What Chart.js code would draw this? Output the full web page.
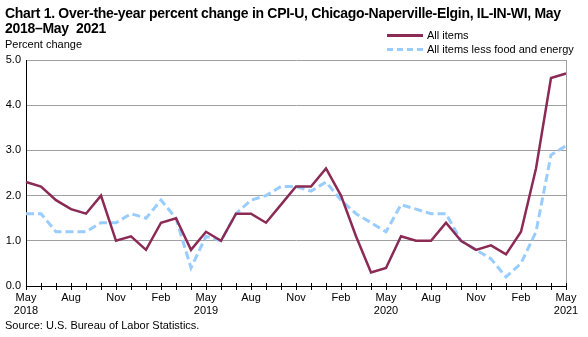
<!DOCTYPE html>
<html>
<head>
<meta charset="utf-8">
<script src="https://cdn.jsdelivr.net/npm/chart.js@4"></script>
<style>
	html, body { margin: 0; padding: 0; background: #fff; }
	#wrap { position: relative; width: 588px; height: 337px; font-family: Arial, "Liberation Sans", sans-serif; color: #000; }
	#chart { position: absolute; left: 0; top: 0; }
	.title { position: absolute; left: 5px; top: 6px; font-size: 14px; font-weight: bold; line-height: 15px; letter-spacing: -0.3px; white-space: nowrap; }
	.ylab { position: absolute; left: 5px; top: 38px; font-size: 11px; }
	.source { position: absolute; left: 5px; top: 319px; font-size: 11px; }
	.legend { position: absolute; left: 387px; top: 28px; font-size: 11px; line-height: 14px; }
	.legend div { white-space: nowrap; }
	.sw { display: inline-block; width: 36px; height: 0; vertical-align: middle; margin-right: 4px; position: relative; top: -1px; }
	.sw.all { border-top: 3px solid #8b2a55; }
	.sw.core { border-top: 3px dashed #99ccff; }
</style>
</head>
<body>
<div id="wrap">
	<canvas id="chart" width="588" height="337"></canvas>
	<div class="title">Chart 1. Over-the-year percent change in CPI-U, Chicago-Naperville-Elgin, IL-IN-WI, May<br>2018&ndash;May&nbsp; 2021</div>
	<div class="ylab">Percent change</div>
	<div class="legend">
		<div><span class="sw all"></span>All items</div>
		<div><span class="sw core"></span>All items less food and energy</div>
	</div>
	<div class="source">Source: U.S. Bureau of Labor Statistics.</div>
</div>
<script>
// monthly labels, May 2018 - May 2021
const months = [
	'May 2018', 'Jun 2018', 'Jul 2018', 'Aug 2018', 'Sep 2018', 'Oct 2018', 'Nov 2018', 'Dec 2018',
	'Jan 2019', 'Feb 2019', 'Mar 2019', 'Apr 2019', 'May 2019', 'Jun 2019', 'Jul 2019', 'Aug 2019',
	'Sep 2019', 'Oct 2019', 'Nov 2019', 'Dec 2019', 'Jan 2020', 'Feb 2020', 'Mar 2020', 'Apr 2020',
	'May 2020', 'Jun 2020', 'Jul 2020', 'Aug 2020', 'Sep 2020', 'Oct 2020', 'Nov 2020', 'Dec 2020',
	'Jan 2021', 'Feb 2021', 'Mar 2021', 'Apr 2021', 'May 2021'
];

const allItems = [
	2.3, 2.2, 1.9, 1.7, 1.6, 2.0, 1.0, 1.1, 0.8, 1.4, 1.5, 0.8,
	1.2, 1.0, 1.6, 1.6, 1.4, 1.8, 2.2, 2.2, 2.6, 2.0, 1.1, 0.3,
	0.4, 1.1, 1.0, 1.0, 1.4, 1.0, 0.8, 0.9, 0.7, 1.2, 2.6, 4.6, 4.7
];

const coreItems = [
	1.6, 1.6, 1.2, 1.2, 1.2, 1.4, 1.4, 1.6, 1.5, 1.9, 1.5, 0.4,
	1.1, 1.0, 1.6, 1.9, 2.0, 2.2, 2.2, 2.1, 2.3, 1.9, 1.6, 1.4,
	1.2, 1.8, 1.7, 1.6, 1.6, 1.0, 0.8, 0.6, 0.2, 0.5, 1.2, 2.9, 3.1
];

const yTicks = [0, 1, 2, 3, 4, 5];

// month ticks that cross the x axis, plus the grey right-hand frame line
const frame = {
	id: 'frame',
	afterDraw(chart) {
		const ctx = chart.ctx;
		const a = chart.chartArea;
		const x = chart.scales.x;
		ctx.save();
		ctx.strokeStyle = '#a0a0a0';
		ctx.lineWidth = 1;
		ctx.beginPath();
		ctx.moveTo(Math.round(a.right) + 0.5, a.top);
		ctx.lineTo(Math.round(a.right) + 0.5, a.bottom);
		ctx.stroke();
		ctx.strokeStyle = '#000';
		ctx.beginPath();
		for (let i = 0; i < months.length; i++) {
			const px = Math.round(x.getPixelForValue(i)) + 0.5;
			ctx.moveTo(px, a.bottom - 3);
			ctx.lineTo(px, a.bottom + 4);
		}
		ctx.moveTo(a.left, Math.round(a.bottom) + 0.5);
		ctx.lineTo(a.right, Math.round(a.bottom) + 0.5);
		ctx.stroke();
		ctx.restore();
	}
};

new Chart(document.getElementById('chart'), {
	type: 'line',
	data: {
		labels: months,
		datasets: [{
			label: 'All items',
			data: allItems,
			borderColor: '#8b2a55',
			borderWidth: 2.5,
			pointRadius: 0,
			tension: 0
		}, {
			label: 'All items less food and energy',
			data: coreItems,
			borderColor: '#99ccff',
			borderWidth: 3,
			borderDash: [8, 4],
			pointRadius: 0,
			tension: 0
		}]
	},
	options: {
		responsive: false,
		animation: false,
		layout: { padding: { top: 60, right: 22, bottom: 21, left: 0 } },
		plugins: { legend: { display: false }, tooltip: { enabled: false } },
		scales: {
			x: {
				offset: false,
				grid: { display: false, drawTicks: false },
				border: { display: false },
				afterFit: s => { s.height = 30; },
				ticks: {
					autoSkip: false,
					maxRotation: 0,
					padding: 5,
					color: '#000',
					font: { family: 'Arial, "Liberation Sans", sans-serif', size: 11 },
					callback: (v, i) => {
						const [m, yr] = months[i].split(' ');
						if (m === 'May') return [m, yr];
						if (m === 'Aug' || m === 'Nov' || m === 'Feb') return m;
						return '';
					}
				}
			},
			y: {
				min: yTicks[0],
				max: yTicks[yTicks.length - 1],
				afterFit: s => { s.width = 26; },
				afterBuildTicks: s => { s.ticks = yTicks.map(v => ({ value: v })); },
				grid: { color: '#a0a0a0', lineWidth: 1, drawTicks: false },
				border: { color: '#000', width: 1 },
				ticks: {
					padding: 5,
					color: '#000',
					font: { family: 'Arial, "Liberation Sans", sans-serif', size: 11 },
					callback: v => v.toFixed(1)
				}
			}
		}
	},
	plugins: [frame]
});
</script>
</body>
</html>
